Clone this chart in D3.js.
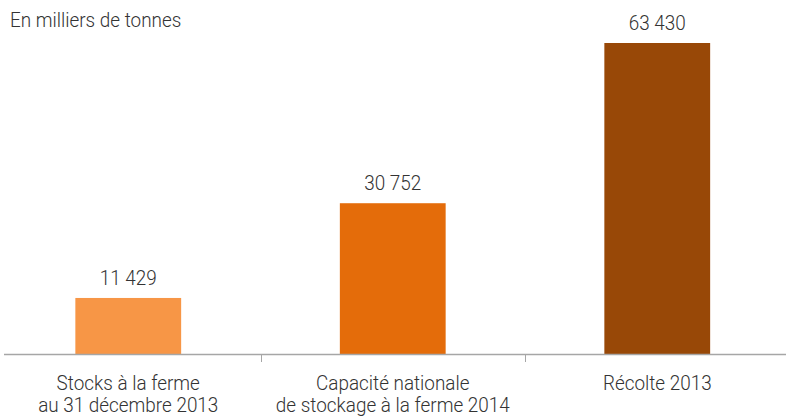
<!DOCTYPE html>
<html><head><meta charset="utf-8">
<script src="https://cdn.jsdelivr.net/npm/d3@7"></script>
<style>body{margin:0;background:#fff}svg{display:block}text{font-family:"Roboto","Open Sans",sans-serif;font-weight:300;fill:#333}</style>
</head><body><svg id="c" width="786" height="416"></svg>
<script>
const categories = [["Stocks à la ferme","au 31 décembre 2013"],["Capacité nationale","de stockage à la ferme 2014"],["Récolte 2013"]];
const values = [11429, 30752, 63430];
const valueLabels = ["11 429","30 752","63 430"];
const colors = ["#F79646","#E46C0A","#984807"];
const unitLabel = "En milliers de tonnes";

const svg = d3.select("#c");
const baseY = 354;
const SX = 0.9, FS = 21;
const x = d3.scaleBand().domain(d3.range(values.length)).range([-4, 789.5]).paddingInner(0.6).paddingOuter(0.3);
const y = d3.scaleLinear().domain([0, 63430]).range([baseY, 43]);

svg.selectAll("rect.bar").data(values).join("rect").attr("class","bar")
  .attr("x",(d,i)=>x(i)).attr("width",x.bandwidth())
  .attr("y",d=>y(d)).attr("height",d=>baseY-y(d))
  .attr("fill",(d,i)=>colors[i]);

svg.append("line").attr("x1",4).attr("x2",786).attr("y1",baseY+0.5).attr("y2",baseY+0.5).attr("stroke","#a6a6a6").attr("stroke-width",1.5);
const step = x.step();
[1,2].forEach(i=>{
  const tx = Math.round(x(i) - (step - x.bandwidth())/2)+0.5;
  svg.append("line").attr("x1",tx).attr("x2",tx).attr("y1",baseY).attr("y2",baseY+8).attr("stroke","#a6a6a6");
});

function label(px, py, anchor, text){
  svg.append("text").attr("transform",`translate(${px},${py}) scale(${SX},1)`)
    .attr("text-anchor",anchor).attr("font-size",FS).text(text);
}
values.forEach((d,i)=>label(x(i)+x.bandwidth()/2, y(d)-13, "middle", valueLabels[i]));
categories.forEach((lines,i)=>lines.forEach((l,j)=>label(x(i)+x.bandwidth()/2, 390+22*j, "middle", l)));
label(10, 27, "start", unitLabel);
</script></body></html>
